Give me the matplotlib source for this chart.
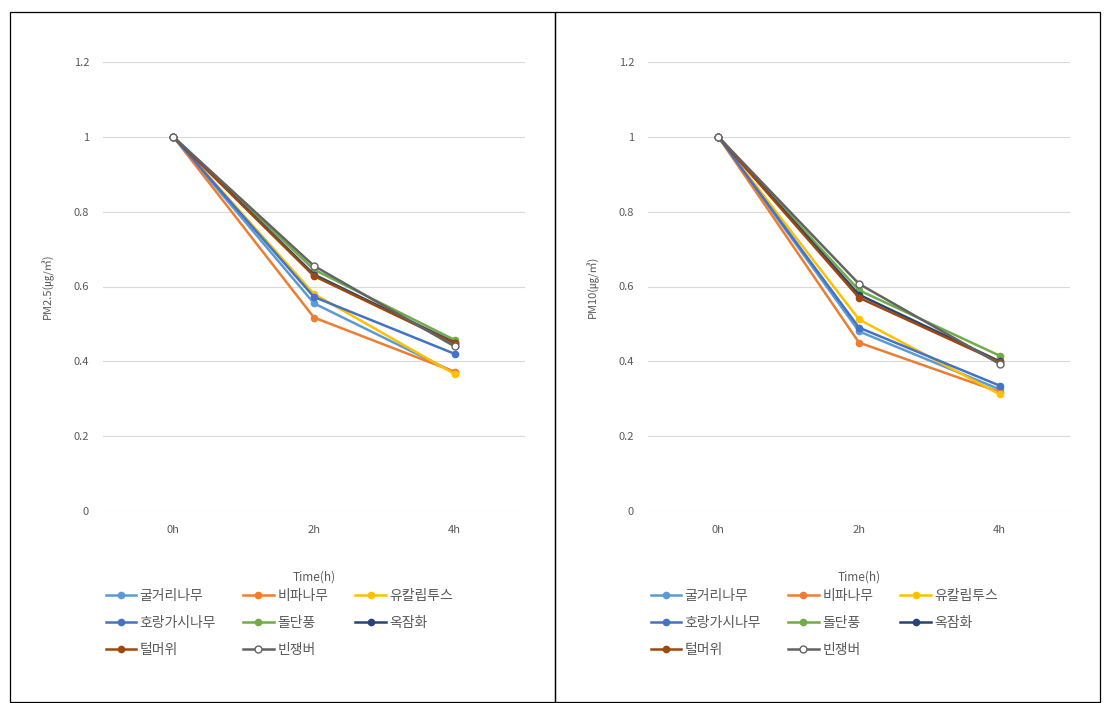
import matplotlib
matplotlib.use("Agg")
import matplotlib.pyplot as plt
from matplotlib.lines import Line2D

plt.rcParams['font.family'] = ['Noto Sans CJK KR', 'DejaVu Sans']

times = ["0h", "2h", "4h"]
species = ["굴거리나무", "비파나무", "유칼립투스", "호랑가시나무", "돌단풍", "옥잠화", "털머위", "빈쟁버"]
colors = ["#5B9BD5", "#ED7D31", "#FFC000", "#4472C4", "#70AD47", "#264478", "#9E480E", "#636363"]

pm25 = {
    "굴거리나무": [1.0, 0.555, 0.370],
    "비파나무": [1.0, 0.517, 0.372],
    "유칼립투스": [1.0, 0.580, 0.366],
    "호랑가시나무": [1.0, 0.572, 0.420],
    "돌단풍": [1.0, 0.645, 0.457],
    "옥잠화": [1.0, 0.632, 0.450],
    "털머위": [1.0, 0.628, 0.448],
    "빈쟁버": [1.0, 0.655, 0.440],
}
pm10 = {
    "굴거리나무": [1.0, 0.480, 0.325],
    "비파나무": [1.0, 0.450, 0.318],
    "유칼립투스": [1.0, 0.512, 0.312],
    "호랑가시나무": [1.0, 0.490, 0.335],
    "돌단풍": [1.0, 0.590, 0.415],
    "옥잠화": [1.0, 0.578, 0.400],
    "털머위": [1.0, 0.570, 0.398],
    "빈쟁버": [1.0, 0.607, 0.393],
}
yticks = [0, 0.2, 0.4, 0.6, 0.8, 1, 1.2]
ytick_labels = ["0", "0.2", "0.4", "0.6", "0.8", "1", "1.2"]

W, H = 1108, 703
fig = plt.figure(figsize=(W / 100, H / 100), dpi=100)

# panel borders
for (x0, x1) in [(10, 555), (555, 1100)]:
    fig.add_artist(plt.Rectangle((x0 / W, 1 - 702 / H), (x1 - x0) / W, (702 - 12) / H,
                                 transform=fig.transFigure, fill=False, edgecolor="black", lw=0.9))

def draw(left_px, data, ylabel):
    ax = fig.add_axes([left_px / W, 1 - 511 / H, 422 / W, 449 / H])
    x = list(range(len(times)))
    for sp, c in zip(species, colors):
        if sp == "빈쟁버":
            ax.plot(x, data[sp], color=c, lw=1.8, marker="o", ms=5,
                    mfc="white", mec=c, mew=1.0, zorder=3)
        else:
            ax.plot(x, data[sp], color=c, lw=1.8, marker="o", ms=4.5,
                    mfc=c, mec=c, zorder=3)
    ax.set_xlim(-0.5, 2.5)
    ax.set_ylim(0, 1.2)
    ax.set_yticks(yticks)
    ax.set_yticklabels(ytick_labels)
    ax.set_xticks(x)
    ax.set_xticklabels(times)
    ax.grid(axis="y", color="#D9D9D9", lw=0.8)
    ax.set_axisbelow(True)
    for s in ax.spines.values():
        s.set_visible(False)
    ax.tick_params(length=0, labelsize=8, labelcolor="#595959")
    ax.tick_params(axis="y", pad=10)
    ax.tick_params(axis="x", pad=10)
    ax.set_ylabel(ylabel, fontsize=8, color="#595959", labelpad=14)
    ax.text(0.5, -(577 - 511) / 449, "Time(h)", transform=ax.transAxes,
            ha="center", va="center", fontsize=8.5, color="#595959")
    order = [0, 3, 6, 1, 4, 7, 2, 5]
    leg_handles = [Line2D([], [], color=colors[i], lw=1.8, marker="o",
                          ms=4.5 if i != 7 else 5,
                          mfc="white" if i == 7 else colors[i], mec=colors[i]) for i in order]
    ax.legend(leg_handles, [species[i] for i in order], ncol=3, frameon=False,
              loc="upper left", bbox_to_anchor=(-0.007, -(583 - 511) / 449),
              borderaxespad=0, fontsize=10,
              labelcolor="#595959", handlelength=2.2, handletextpad=0.25,
              columnspacing=1.95, labelspacing=0.95)
    return ax

draw(103, pm25, "PM2.5(㎍/㎥)")
draw(648, pm10, "PM10(㎍/㎥)")

fig.savefig("out.png", dpi=100, facecolor="white")
